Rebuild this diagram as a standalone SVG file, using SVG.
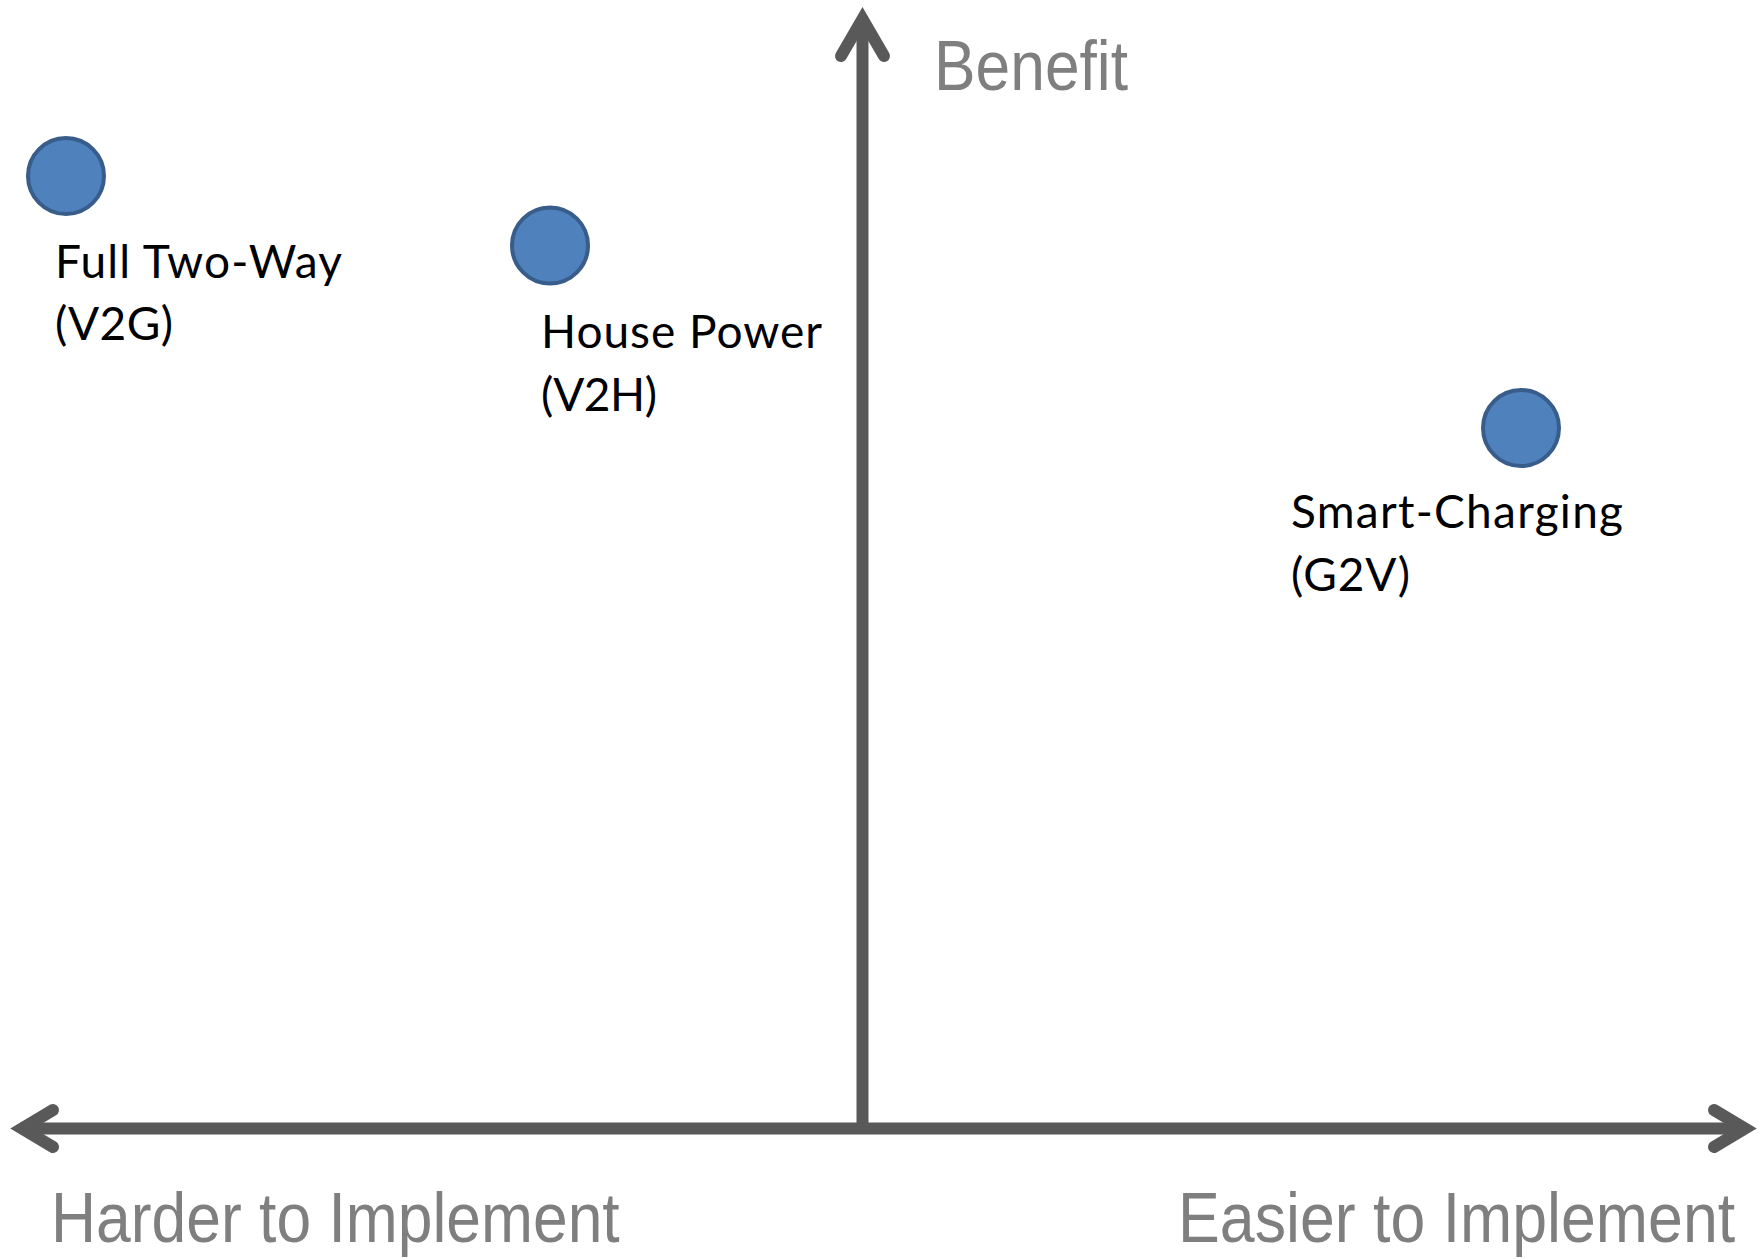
<svg xmlns="http://www.w3.org/2000/svg" width="1758" height="1259" viewBox="0 0 1758 1259">
  <style>
    .axis { fill: none; stroke: #595959; stroke-width: 12; }
    .head { fill: none; stroke: #595959; stroke-width: 12; stroke-linecap: round; stroke-linejoin: miter; stroke-miterlimit: 10; }
    .axis-label { font-family: "Liberation Sans Narrow", "Liberation Sans", Arial, sans-serif; font-size: 70px; fill: #7f7f7f; }
    .dot { fill: #4f81bd; stroke: #385d8a; stroke-width: 4; }
    .label { font-family: Lato, "Open Sans", "Liberation Sans", sans-serif; font-size: 46px; fill: #000000; }
  </style>
  <rect width="1758" height="1259" fill="#ffffff"/>

  <!-- axes -->
  <g id="connectors">
    <line class="axis" x1="862.5" y1="20" x2="862.5" y2="1123"/>
    <polyline class="head" points="841,56 862.5,19 884,56"/>
    <line class="axis" x1="20" y1="1128.5" x2="1745" y2="1128.5"/>
    <polyline class="head" points="53,1110 22,1128.5 53,1147"/>
    <polyline class="head" points="1714,1110 1745,1128.5 1714,1147"/>
  </g>

  <!-- axis captions, set in a condensed face -->
  <g id="axis-benefit" transform="translate(934,90) scale(0.89,1)">
    <text class="axis-label" x="0" y="0" textLength="218" lengthAdjust="spacingAndGlyphs">Benefit</text>
  </g>
  <g id="axis-harder" transform="translate(51,1242) scale(0.89,1)">
    <text class="axis-label" x="0" y="0" textLength="639" lengthAdjust="spacingAndGlyphs">Harder to Implement</text>
  </g>
  <g id="axis-easier" transform="translate(1178,1242) scale(0.89,1)">
    <text class="axis-label" x="0" y="0" textLength="626" lengthAdjust="spacingAndGlyphs">Easier to Implement</text>
  </g>

  <!-- plotted options -->
  <g id="node-v2g">
    <circle class="dot" cx="66" cy="176" r="38"/>
    <text class="label" x="55" y="278" textLength="287">Full Two-Way</text>
    <text class="label" x="55" y="340" textLength="118">(V2G)</text>
  </g>
  <g id="node-v2h">
    <circle class="dot" cx="550" cy="245.5" r="38"/>
    <text class="label" x="541" y="348" textLength="281">House Power</text>
    <text class="label" x="541" y="411" textLength="116">(V2H)</text>
  </g>
  <g id="node-g2v">
    <circle class="dot" cx="1521" cy="428" r="38"/>
    <text class="label" x="1291" y="528" textLength="332">Smart-Charging</text>
    <text class="label" x="1291" y="591" textLength="119">(G2V)</text>
  </g>
</svg>
